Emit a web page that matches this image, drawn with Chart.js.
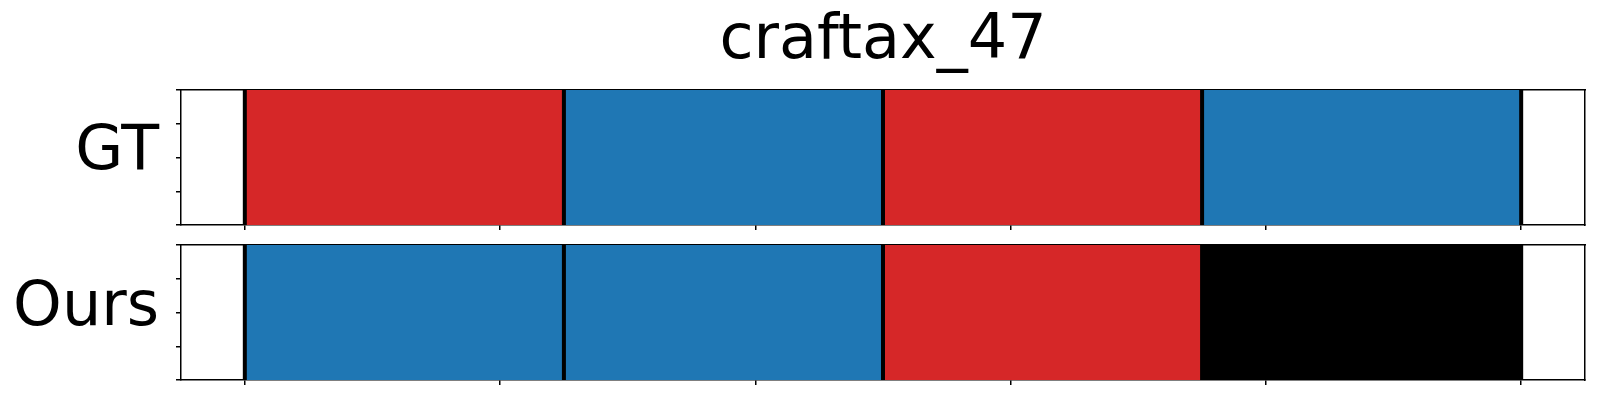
<!DOCTYPE html>
<html><head><meta charset="utf-8">
<script src="https://cdn.jsdelivr.net/npm/chart.js@4.4.0/dist/chart.umd.min.js"></script>
<style>
html,body{margin:0;padding:0;background:#fff;width:1600px;height:400px;overflow:hidden}
#c1{position:absolute;left:0;top:0}
#c2{position:absolute;left:0;top:235px}
</style></head><body>
<canvas id="c1" width="1600" height="235"></canvas>
<canvas id="c2" width="1600" height="165"></canvas>
<script>
// ---- data ----
const chartTitle = 'craftax_47';
const rowLabels = ['GT', 'Ours'];
const segmentStarts = [0, 1.25, 2.5, 3.75];
const segmentEnds = [1.25, 2.5, 3.75, 5];
const gtClasses = [1, 0, 1, 0];
const oursClasses = [0, 0, 1, 2];
const boundaries = [0, 1.25, 2.5, 3.75, 5];
const xTicks = [0, 1, 2, 3, 4, 5];
const yTicks = [0, 0.25, 0.5, 0.75, 1];
const xRange = [-0.25, 5.25];

// ---- styles ----
const classColors = ['#1f77b4', '#d62728', '#000000'];
const FONT = 'DejaVu Sans';
const FONT_SIZE = 62;

function makeChart(canvas, rowLabel, classes, withTitle) {
  const datasets = [];
  classes.forEach((cls, i) => {
    datasets.push({
      type: 'bar', indexAxis: 'y', xAxisID: 'x', yAxisID: 'y',
      data: [[segmentStarts[i], segmentEnds[i]]],
      backgroundColor: classColors[cls], borderWidth: 0,
      grouped: false, categoryPercentage: 1, barPercentage: 1, order: 2
    });
  });
  boundaries.forEach(b => {
    datasets.push({
      type: 'line', xAxisID: 'x', yAxisID: 'yt',
      data: [{x: b, y: 0}, {x: b, y: 1}],
      borderColor: '#000', borderWidth: 4, pointRadius: 0, fill: false, order: 1
    });
  });
  const fix = (w, h) => (s) => {
    if (w !== null) s.width = w;
    if (h !== null) s.height = h;
    s.paddingTop = 0; s.paddingBottom = 0; s.paddingLeft = 0; s.paddingRight = 0;
  };
  const border = {display: true, color: '#000', width: 1.5};
  return new Chart(canvas, {
    type: 'bar',
    data: {labels: [rowLabel], datasets},
    options: {
      responsive: false, animation: false, events: [],
      layout: {padding: {top: withTitle ? 0 : 10, right: 15, left: 0, bottom: 0}},
      plugins: {
        legend: {display: false}, tooltip: {enabled: false},
        title: {
          display: withTitle, text: chartTitle, fullSize: false, color: '#000',
          font: {family: FONT, size: FONT_SIZE, weight: 'normal'}, padding: {top: 4.5, bottom: 11.1}
        }
      },
      scales: {
        x: {
          type: 'linear', position: 'bottom', min: xRange[0], max: xRange[1],
          offset: false, beginAtZero: false,
          afterBuildTicks: s => { s.ticks = xTicks.map(v => ({value: v})); },
          ticks: {display: false},
          grid: {display: true, offset: false, drawOnChartArea: false, drawTicks: true, tickLength: 5, color: '#000', lineWidth: 1.5},
          border, z: 1,
          afterFit: fix(null, withTitle ? 10 : 20)
        },
        x2: {
          type: 'linear', position: 'top', min: xRange[0], max: xRange[1], offset: false,
          ticks: {display: false}, grid: {display: false, offset: false}, border, z: 1,
          afterFit: fix(null, 0)
        },
        y: {
          type: 'category', position: 'left', weight: 1, offset: true,
          ticks: {display: true, color: '#000', padding: 12, labelOffset: withTitle ? -5 : -4,
                  font: {family: FONT, size: FONT_SIZE}},
          grid: {display: false, drawTicks: false}, border: {display: false},
          afterFit: fix(171, null)
        },
        yt: {
          type: 'linear', position: 'left', weight: 0, min: 0, max: 1, offset: false,
          afterBuildTicks: s => { s.ticks = yTicks.map(v => ({value: v})); },
          ticks: {display: false},
          grid: {display: true, offset: false, drawOnChartArea: false, drawTicks: true, tickLength: 5, color: '#000', lineWidth: 1.5},
          border, z: 1,
          afterFit: fix(10, null)
        },
        y2: {
          type: 'linear', position: 'right', min: 0, max: 1, offset: false,
          ticks: {display: false}, grid: {display: false}, border, z: 1,
          afterFit: fix(0, null)
        }
      }
    }
  });
}

makeChart(document.getElementById('c1'), rowLabels[0], gtClasses, true);
makeChart(document.getElementById('c2'), rowLabels[1], oursClasses, false);
</script>
</body></html>
